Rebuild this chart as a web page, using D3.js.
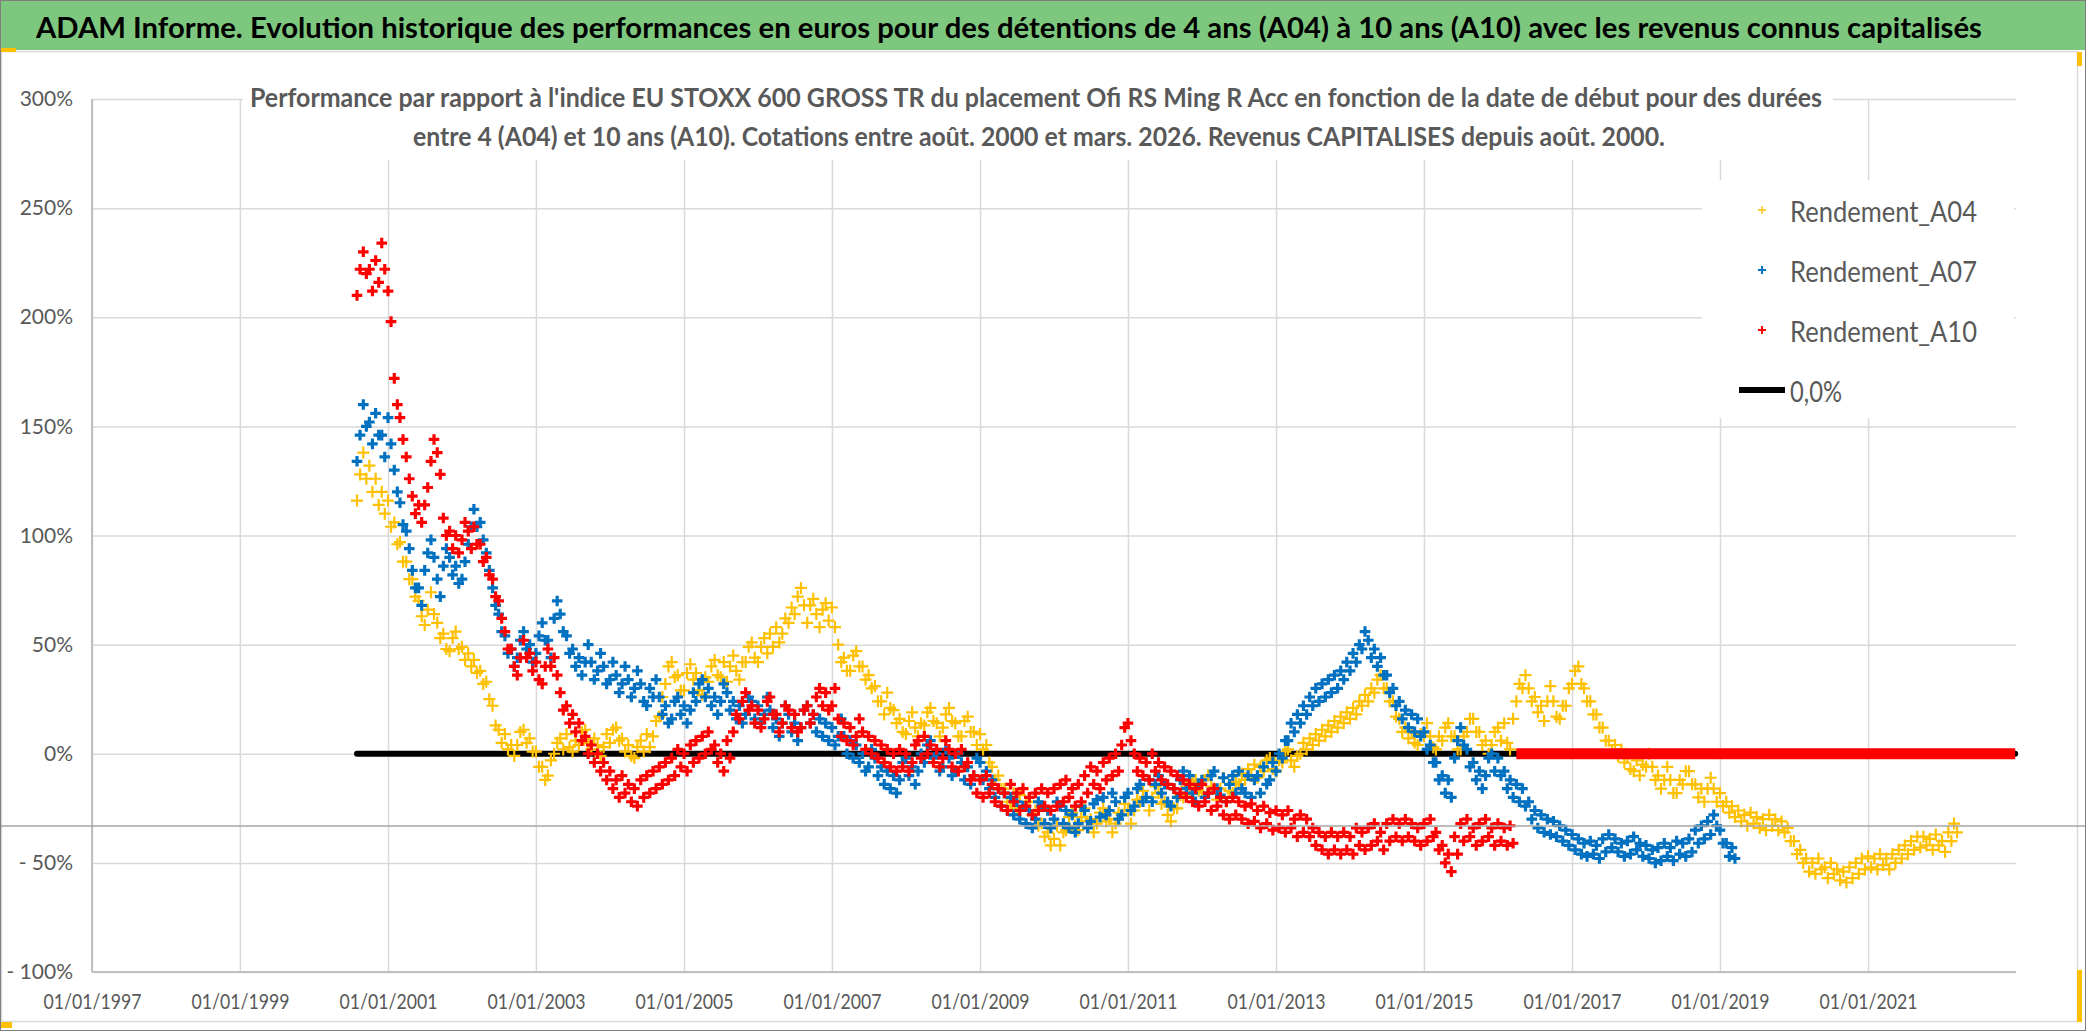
<!DOCTYPE html>
<html>
<head>
<meta charset="utf-8">
<script src="https://cdn.jsdelivr.net/npm/d3@7"></script>
<style>
html, body { margin: 0; padding: 0; background: #fff; }
svg { display: block; }
text { font-family: Lato, "Open Sans", sans-serif; }
</style>
</head>
<body>
<svg id="chart" width="2086" height="1031"></svg>
<script>
// two readings per month (in %, ~1st and ~16th), first month = Aug 2000
const firstMonth = "2000-08-01";
const rendementA04 = [
	116,128, 138,126, 132,120, 126,114, 120,110,
	116,104, 106,96, 97,88, 88,80, 80,72, 70,63, 59,66, 74,64, 60,53, 55,48, 47,53, 56,48,
	49,43, 46,40, 43,37, 38,32, 33,25, 22,13, 11,5, 9,2, 4,-1, 4,10, 11,5, 7,1,
	1,-6, -6,-12, -10,-3, 0,5, 7,2, 9,3, 1,6, 4,10, 11,5, 2,7, 4,-1, 3,9,
	5,11, 12,6, 7,1, 4,-1, -2,3, 6,1, 9,3, 8,15, 17,26, 32,40, 42,35, 36,29,
	29,37, 41,34, 37,29, 27,35, 33,40, 43,36, 35,42, 33,40, 45,38, 34,42, 42,49, 51,44,
	42,49, 53,46, 55,49, 58,51, 55,62, 60,67, 64,72, 76,68, 60,68, 71,64, 58,66, 69,61,
	67,58, 50,42, 44,38, 38,45, 47,40, 40,34, 36,30, 31,24, 24,18, 28,21, 20,14, 16,10,
	9,15, 19,12, 8,14, 13,19, 21,15, 14,8, 12,18, 21,15, 14,8, 8,15, 17,10, 10,4,
	9,2, 4,-4, -6,-12, -10,-16, -16,-22, -24,-18, -25,-19, -16,-22, -22,-28, -26,-33, -32,-38, -36,-42,
	-39,-33, -42,-36, -35,-29, -27,-33, -35,-29, -25,-31, -30,-36, -32,-27, -25,-31, -30,-36, -32,-27, -28,-23,
	-26,-32, -26,-21, -22,-17, -20,-26, -20,-15, -18,-23, -22,-28, -31,-25, -25,-19, -20,-15, -18,-13, -12,-17,
	-18,-12, -10,-15, -16,-21, -16,-11, -22,-17, -18,-13, -14,-9, -12,-7, -10,-5, -11,-6, -8,-3, -2,-7,
	-8,-3, -4,1, 2,-3, -6,-1, 0,5, 2,7, 4,9, 6,11, 8,13, 10,15, 12,17, 14,19,
	16,21, 18,24, 22,27, 24,30, 28,34, 36,30, 30,24, 24,17, 16,10, 12,7, 10,5, 4,9,
	8,14, 8,3, 2,8, 6,12, 14,8, 8,2, 2,8, 10,16, 16,10, 10,4, 6,0, 4,10,
	12,6, 14,5, 2,16, 24,32, 30,36, 30,24, 26,19, 22,15, 24,31, 24,17, 16,22, 22,30,
	32,38, 40,32, 30,24, 24,18, 18,12, 12,6, 6,1, 4,-1, 2,-4, -2,-7, -8,-3, -10,-5,
	-6,0, -6,-12, -10,-16, -12,-6, -12,-18, -18,-12, -14,-8, -8,-14, -14,-20, -16,-22, -16,-11, -16,-22,
	-18,-24, -22,-27, -24,-29, -26,-31, -28,-33, -27,-32, -29,-34, -30,-35, -28,-33, -30,-35, -31,-36, -34,-40,
	-40,-46, -44,-50, -48,-54, -50,-55, -48,-53, -52,-57, -50,-55, -53,-58, -54,-59, -52,-57, -50,-55, -48,-53,
	-47,-52, -48,-53, -46,-51, -48,-53, -46,-50, -44,-48, -42,-46, -40,-44, -38,-43, -38,-42, -39,-44, -37,-42,
	-40,-45, -36,-40, -32,-36
];
const rendementA07 = [
	134,146, 160,150, 152,142, 156,146, 146,136,
	154,142, 130,120, 115,105, 102,94, 84,76, 76,68, 84,92, 98,90, 80,72, 86,94, 90,82, 86,78,
	80,88, 96,104, 112,104, 106,98, 92,84, 76,68, 64,56, 54,46, 48,40, 44,52, 56,48, 50,42,
	46,54, 60,52, 52,44, 62,70, 64,56, 54,46, 48,40, 44,36, 42,50, 42,34, 38,46, 40,32,
	34,42, 36,28, 32,40, 34,26, 30,38, 32,24, 22,30, 26,34, 26,18, 22,14, 16,24, 26,18,
	22,14, 20,28, 24,32, 34,26, 30,22, 26,18, 24,32, 28,20, 24,16, 22,14, 18,26, 24,16,
	22,14, 18,26, 20,12, 16,8, 14,22, 18,10, 14,6, 12,20, 22,14, 18,10, 16,8, 14,6,
	12,4, 8,16, 8,0, 6,-2, 4,-4, 0,-8, -6,2, -2,-10, -6,-14, -8,-16, -10,-18, -12,-4,
	-2,-10, -6,-14, -8,0, -4,4, 6,-2, 0,-8, -6,2, -2,-10, -8,0, -4,-12, -6,-14, -10,-2,
	-4,-12, -8,-16, -12,-20, -16,-24, -18,-26, -20,-28, -22,-30, -24,-32, -26,-34, -30,-22, -24,-32, -26,-34,
	-30,-22, -24,-32, -26,-34, -28,-36, -32,-24, -26,-34, -31,-23, -21,-29, -20,-28, -26,-18, -22,-30, -28,-20,
	-18,-26, -24,-16, -14,-22, -20,-12, -22,-14, -10,-18, -14,-22, -24,-16, -20,-12, -8,-16, -10,-18, -22,-14,
	-12,-20, -18,-10, -8,-16, -19,-11, -22,-14, -10,-18, -8,-16, -18,-10, -20,-12, -10,-18, -6,-14, -12,-4,
	-8,0, -2,6, 6,14, 10,18, 14,22, 18,26, 22,30, 24,32, 26,34, 28,36, 30,38, 34,42,
	38,46, 42,50, 48,56, 52,44, 48,40, 44,36, 36,28, 30,22, 24,16, 20,12, 18,10, 16,8,
	10,2, 4,-4, -4,-12, -10,-18, -12,-20, -2,6, 12,4, 2,-6, -4,-12, -8,-16, -10,-2, 0,-8,
	-2,-10, -8,-16, -12,-20, -14,-22, -16,-24, -22,-30, -26,-34, -28,-36, -30,-37, -31,-38, -33,-40, -35,-42,
	-37,-44, -39,-46, -41,-47, -40,-46, -42,-48, -39,-45, -37,-43, -39,-45, -41,-47, -40,-46, -38,-44, -41,-47,
	-42,-48, -44,-50, -43,-49, -41,-47, -43,-49, -40,-46, -41,-47, -39,-45, -35,-41, -33,-39, -31,-37, -28,-33,
	-35,-41, -41,-47, -43,-48
];
const rendementA10 = [
	210,222, 230,220, 222,212, 226,216, 234,222,
	212,198, 172,160, 154,144, 136,126, 118,110, 114,106, 114,122, 134,144, 138,128, 108,100, 102,94, 100,92,
	98,106, 102,94, 104,96, 96,88, 90,82, 80,72, 70,62, 56,48, 48,40, 36,44, 52,44, 46,38,
	42,34, 32,40, 48,40, 44,36, 28,20, 22,14, 18,10, 14,6, 8,0, 4,-4, 0,-8, -4,-12,
	-8,-16, -12,-20, -10,-18, -14,-22, -16,-24, -12,-20, -10,-18, -8,-16, -6,-14, -4,-12, -2,-10, 2,-6,
	0,-8, 4,-4, 6,-2, 8,0, 10,2, 4,-4, 0,-8, 6,-2, 10,18, 16,24, 28,20, 22,14,
	20,12, 16,24, 26,18, 18,10, 14,22, 20,12, 18,10, 12,20, 22,14, 18,26, 30,22, 28,20,
	22,30, 16,8, 14,6, 12,4, 8,16, 10,2, 8,0, 6,-2, 4,-4, 2,-6, 0,-8, 2,-6,
	0,-8, -4,4, 6,-2, 8,0, 4,-4, 2,-6, -2,6, 2,-6, 0,-8, 2,-6, -4,-12, -10,-18,
	-12,-20, -10,-18, -14,-22, -16,-24, -18,-26, -14,-22, -18,-26, -16,-24, -20,-28, -18,-26, -16,-24, -18,-26,
	-16,-24, -14,-22, -12,-20, -16,-24, -14,-22, -10,-18, -6,-14, -8,-16, -4,-12, -2,-10, 0,-8, 4,12,
	14,6, 0,-8, -2,-10, -4,-12, 0,-8, -4,-12, -6,-14, -8,-16, -10,-18, -12,-20, -14,-22, -16,-24,
	-14,-22, -18,-26, -16,-24, -20,-28, -22,-30, -20,-28, -22,-30, -24,-32, -23,-31, -26,-34, -24,-32, -27,-35,
	-26,-34, -28,-36, -26,-34, -30,-38, -28,-36, -30,-38, -34,-42, -36,-44, -38,-46, -36,-44, -38,-46, -36,-44,
	-38,-46, -34,-42, -36,-44, -34,-42, -32,-40, -36,-44, -32,-40, -30,-38, -32,-40, -30,-38, -32,-40, -34,-42,
	-32,-40, -30,-38, -36,-44, -42,-50, -46,-54, -38,-46, -32,-40, -30,-38, -34,-42, -32,-40, -30,-38, -34,-42,
	-32,-40, -34,-42, -33,-41
];
// A10 is 0 after its last reading, the 0,0% line runs over the whole range
const a10ZeroFrom = "2016-04-01";
const zeroLineFrom = "2000-08-01";
const zeroLineTo = "2022-12-28";

const yTicks = [-100, -50, 0, 50, 100, 150, 200, 250, 300];
const yTickLabels = ["- 100%", "- 50%", "0%", "50%", "100%", "150%", "200%", "250%", "300%"];
const xTickYears = [1997, 1999, 2001, 2003, 2005, 2007, 2009, 2011, 2013, 2015, 2017, 2019, 2021];
const legendLabels = ["Rendement_A04", "Rendement_A07", "Rendement_A10", "0,0%"];
const seriesColors = ["#ffc000", "#0070c0", "#ff0000"];

const title = "ADAM Informe. Evolution historique des performances en euros pour des détentions de 4 ans (A04) à 10 ans (A10) avec les revenus connus capitalisés";
const subtitle1 = "Performance par rapport à l'indice EU STOXX 600 GROSS TR  du placement Ofi RS Ming R Acc en fonction de la date de début pour des durées";
const subtitle2 = "entre 4 (A04) et 10 ans (A10). Cotations entre août. 2000 et mars. 2026. Revenus CAPITALISES depuis août. 2000.";

const width = 2086;
const height = 1031;
const plotLeft = 92, plotRight = 2016, plotTop = 99, plotBottom = 972;
const textGray = "#595959";

const svg = d3.select("#chart");
const parse = d3.utcParse("%Y-%m-%d");
const start = parse(firstMonth);
// even index = 1st of the month, odd index = 16th
const toPoints = arr => arr.map((v, i) => ({
	date: d3.utcDay.offset(d3.utcMonth.offset(start, Math.floor(i / 2)), (i % 2) * 15),
	value: v
}));

const x = d3.scaleUtc()
	.domain([Date.UTC(1997, 0, 1), Date.UTC(2023, 0, 1)])
	.range([plotLeft, plotRight]);
const y = d3.scaleLinear()
	.domain([-100, 300])
	.range([plotBottom, plotTop]);

svg.append("rect").attr("width", width).attr("height", height).attr("fill", "#fff");

// chart frame
svg.append("rect")
	.attr("x", 1.5).attr("y", 51.5)
	.attr("width", 2076).attr("height", 970)
	.attr("fill", "#fff").attr("stroke", "#d9d9d9").attr("stroke-width", 1.5);

// banner
svg.append("rect")
	.attr("x", 0).attr("y", 0).attr("width", width).attr("height", 50)
	.attr("fill", "#7dc87e");
svg.append("text")
	.attr("x", 1009).attr("y", 26)
	.attr("text-anchor", "middle").attr("dominant-baseline", "central")
	.attr("font-size", 29).attr("font-weight", "bold").attr("fill", "#000")
	.attr("textLength", 1946).attr("lengthAdjust", "spacingAndGlyphs")
	.text(title);

// gridlines + axes
const yAxis = svg.append("g")
	.attr("transform", `translate(${plotLeft},0)`)
	.call(d3.axisLeft(y)
		.tickValues(yTicks)
		.tickSize(-(plotRight - plotLeft))
		.tickPadding(19)
		.tickFormat((d, i) => yTickLabels[i]));
yAxis.select(".domain").remove();
yAxis.selectAll("line").attr("stroke", "#d9d9d9").attr("stroke-width", 1.5);
yAxis.selectAll("text").attr("font-size", 21).attr("fill", textGray);

const xAxis = svg.append("g")
	.attr("transform", `translate(0,${plotBottom})`)
	.call(d3.axisBottom(x)
		.tickValues(xTickYears.map(yr => new Date(Date.UTC(yr, 0, 1))))
		.tickSize(-(plotBottom - plotTop))
		.tickPadding(22)
		.tickFormat(d3.utcFormat("%d/%m/%Y")));
xAxis.select(".domain").remove();
xAxis.selectAll("line").attr("stroke", "#d9d9d9").attr("stroke-width", 1.5);
xAxis.selectAll("text").attr("font-size", 21).attr("fill", textGray)
	.attr("textLength", 98).attr("lengthAdjust", "spacingAndGlyphs");

// axis lines
svg.append("line")
	.attr("x1", plotLeft).attr("x2", plotLeft).attr("y1", plotTop).attr("y2", plotBottom)
	.attr("stroke", "#bfbfbf").attr("stroke-width", 2);
svg.append("line")
	.attr("x1", plotLeft).attr("x2", plotRight).attr("y1", y(-100)).attr("y2", y(-100))
	.attr("stroke", "#bfbfbf").attr("stroke-width", 2);

// subtitle box
svg.append("rect")
	.attr("x", 243).attr("y", 70).attr("width", 1590).attr("height", 90)
	.attr("fill", "#fff");
svg.append("text")
	.attr("x", 1036).attr("y", 97)
	.attr("text-anchor", "middle").attr("dominant-baseline", "central")
	.attr("font-size", 26).attr("font-weight", "bold").attr("fill", textGray)
	.attr("textLength", 1572).attr("lengthAdjust", "spacingAndGlyphs")
	.text(subtitle1);
svg.append("text")
	.attr("x", 1039).attr("y", 136)
	.attr("text-anchor", "middle").attr("dominant-baseline", "central")
	.attr("font-size", 26).attr("font-weight", "bold").attr("fill", textGray)
	.attr("textLength", 1252).attr("lengthAdjust", "spacingAndGlyphs")
	.text(subtitle2);

// legend box
svg.append("rect")
	.attr("x", 1702).attr("y", 180).attr("width", 312).attr("height", 238)
	.attr("fill", "#fff");

// 0,0% line
svg.append("line")
	.attr("x1", x(parse(zeroLineFrom))).attr("x2", x(parse(zeroLineTo)))
	.attr("y1", y(0)).attr("y2", y(0))
	.attr("stroke", "#000").attr("stroke-width", 6).attr("stroke-linecap", "round");

const plus = s => `M${-s},0H${s}M0,${-s}V${s}`;
const series = [
	{ data: toPoints(rendementA04), color: seriesColors[0], size: 6, sw: 2.2 },
	{ data: toPoints(rendementA07), color: seriesColors[1], size: 5.3, sw: 3.2 },
	{ data: toPoints(rendementA10), color: seriesColors[2], size: 5.3, sw: 3.2 },
];
for (const s of series) {
	svg.append("g")
		.selectAll("path")
		.data(s.data)
		.enter()
		.append("path")
		.attr("d", plus(s.size))
		.attr("transform", d => `translate(${x(d.date)},${y(d.value)})`)
		.attr("stroke", s.color)
		.attr("stroke-width", s.sw)
		.attr("fill", "none");
}

// A10 zero values after its last reading
svg.append("line")
	.attr("x1", x(parse(a10ZeroFrom))).attr("x2", x(parse(zeroLineTo)))
	.attr("y1", y(0)).attr("y2", y(0))
	.attr("stroke", seriesColors[2]).attr("stroke-width", 11);

// legend
const legend = svg.append("g");
legendLabels.forEach((label, i) => {
	const ly = 210 + i * 60;
	if (i < 3) {
		legend.append("path")
			.attr("d", plus(4))
			.attr("transform", `translate(1762,${ly})`)
			.attr("stroke", seriesColors[i]).attr("stroke-width", i === 0 ? 1.3 : 2);
	} else {
		legend.append("line")
			.attr("x1", 1739).attr("x2", 1785).attr("y1", ly).attr("y2", ly)
			.attr("stroke", "#000").attr("stroke-width", 6);
	}
	legend.append("text")
		.attr("x", 1790).attr("y", ly)
		.attr("dominant-baseline", "central")
		.attr("font-size", 29).attr("fill", textGray)
		.attr("textLength", i < 3 ? 187 : 52).attr("lengthAdjust", "spacingAndGlyphs")
		.text(label);
});

// stray horizontal rule across the sheet
svg.append("line")
	.attr("x1", 0).attr("x2", width).attr("y1", 826).attr("y2", 826)
	.attr("stroke", "#a6a6a6").attr("stroke-width", 1.5);

// selection handles + outer border
svg.append("rect").attr("x", 0).attr("y", 48).attr("width", 16).attr("height", 4).attr("fill", "#ffc000");
svg.append("rect").attr("x", 2077).attr("y", 52).attr("width", 5).attr("height", 14).attr("fill", "#ffc000");
svg.append("rect").attr("x", 2077).attr("y", 970).attr("width", 5).attr("height", 52).attr("fill", "#ffc000");
svg.append("rect").attr("x", 0).attr("y", 1022).attr("width", 12).attr("height", 6).attr("fill", "#ffc000");
svg.append("rect")
	.attr("x", 0.5).attr("y", 0.5).attr("width", width - 1).attr("height", height - 1)
	.attr("fill", "none").attr("stroke", "#7f7f7f").attr("stroke-width", 1);
</script>
</body>
</html>
